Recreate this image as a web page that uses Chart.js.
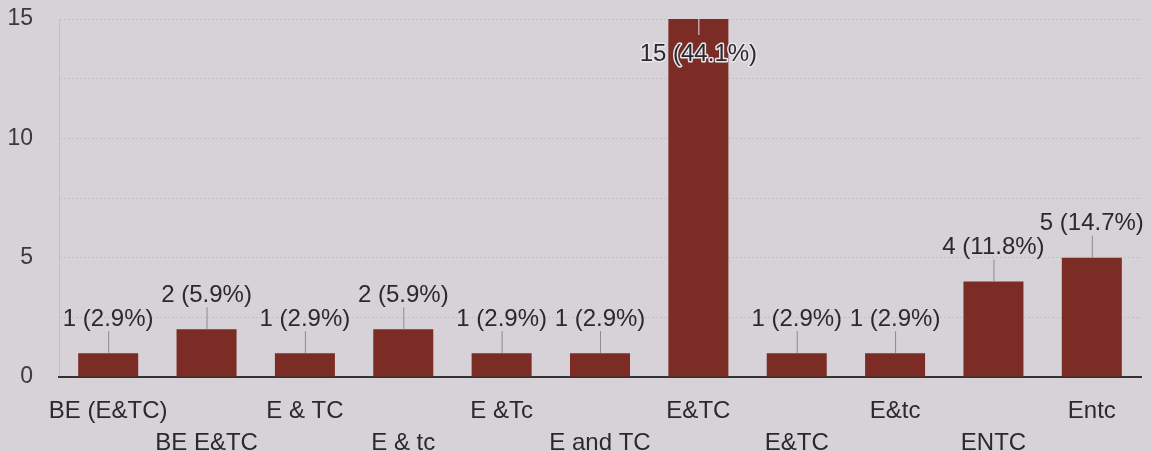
<!DOCTYPE html>
<html>
<head>
<meta charset="utf-8">
<script src="https://cdn.jsdelivr.net/npm/chart.js@4/dist/chart.umd.min.js"></script>
<style>
  html, body { margin: 0; padding: 0; background: #d6d2d8; }
  #wrap { width: 1151px; height: 452px; position: relative; }
</style>
</head>
<body>
<div id="wrap"><canvas id="c" width="1151" height="452"></canvas></div>
<script>
const categories = ['BE (E&TC)', 'BE E&TC', 'E & TC', 'E & tc', 'E &Tc', 'E and TC', 'E&TC', 'E&TC', 'E&tc', 'ENTC', 'Entc'];
const counts = [1, 2, 1, 2, 1, 1, 15, 1, 1, 4, 5];
const yTickValues = [0, 5, 10, 15];

const total = counts.reduce((a, b) => a + b, 0);
const FONT = '"Liberation Sans", Arial, sans-serif';

const labelPlugin = {
  id: 'barLabels',
  afterDatasetsDraw(chart) {
    const ctx = chart.ctx;
    const meta = chart.getDatasetMeta(0);
    const area = chart.chartArea;
    ctx.save();
    ctx.font = '24px ' + FONT;
    ctx.textAlign = 'center';
    ctx.textBaseline = 'middle';
    meta.data.forEach((bar, i) => {
      const v = counts[i];
      const txt = v + ' (' + (v / total * 100).toFixed(1) + '%)';
      const top = bar.y;
      let ty = top - 34;
      let inside = false;
      if (ty < area.top + 35) { ty = area.top + 35; inside = true; }
      ctx.beginPath();
      ctx.lineWidth = 1;
      if (!inside) {
        ctx.strokeStyle = '#8e8a90';
        ctx.moveTo(bar.x + 0.5, ty + 12);
        ctx.lineTo(bar.x + 0.5, top);
      } else {
        ctx.strokeStyle = '#e6e2e8';
        ctx.moveTo(bar.x + 0.5, top);
        ctx.lineTo(bar.x + 0.5, ty - 19);
      }
      ctx.stroke();
      if (inside) {
        ctx.lineWidth = 3;
        ctx.lineJoin = 'round';
        ctx.strokeStyle = '#e8e4ea';
        ctx.strokeText(txt, bar.x, ty);
      }
      ctx.fillStyle = '#2a2a2a';
      ctx.fillText(txt, bar.x, ty);
    });
    ctx.restore();
  }
};

new Chart(document.getElementById('c'), {
  type: 'bar',
  data: {
    labels: categories.map((c, i) => i % 2 === 0 ? c : ['', c]),
    datasets: [{
      data: counts,
      backgroundColor: '#7a2c25',
      borderWidth: 0,
      barPercentage: 0.61,
      categoryPercentage: 1.0
    }]
  },
  options: {
    responsive: false,
    animation: false,
    devicePixelRatio: 1,
    layout: { padding: { top: 19, right: 10, left: 0, bottom: 0 } },
    plugins: { legend: { display: false }, tooltip: { enabled: false } },
    scales: {
      x: {
        grid: { display: false },
        border: { display: true, color: '#333333', width: 2 },
        ticks: {
          autoSkip: false,
          maxRotation: 0,
          minRotation: 0,
          padding: 10,
          color: '#2a2a2a',
          font: { family: FONT, size: 24, lineHeight: 1.33 }
        },
        afterFit(scale) { scale.height = 75; }
      },
      y: {
        min: 0,
        max: 15,
        afterBuildTicks(scale) {
          const t = [];
          for (let v = 0; v <= 15; v += 2.5) t.push({ value: v });
          scale.ticks = t;
        },
        ticks: {
          padding: 26,
          color: '#3a3a3a',
          font: { family: FONT, size: 23 },
          callback: (v) => yTickValues.includes(v) ? String(v) : ''
        },
        grid: { color: 'rgba(90,80,95,0.14)', drawTicks: false, lineWidth: 1 },
        border: { display: true, color: 'rgba(90,80,95,0.14)', dash: [2, 2] },
        afterFit(scale) {
          scale.width = 59;
          scale.paddingTop = 0;
          scale.paddingBottom = 0;
        }
      }
    }
  },
  plugins: [labelPlugin]
});
</script>
</body>
</html>
